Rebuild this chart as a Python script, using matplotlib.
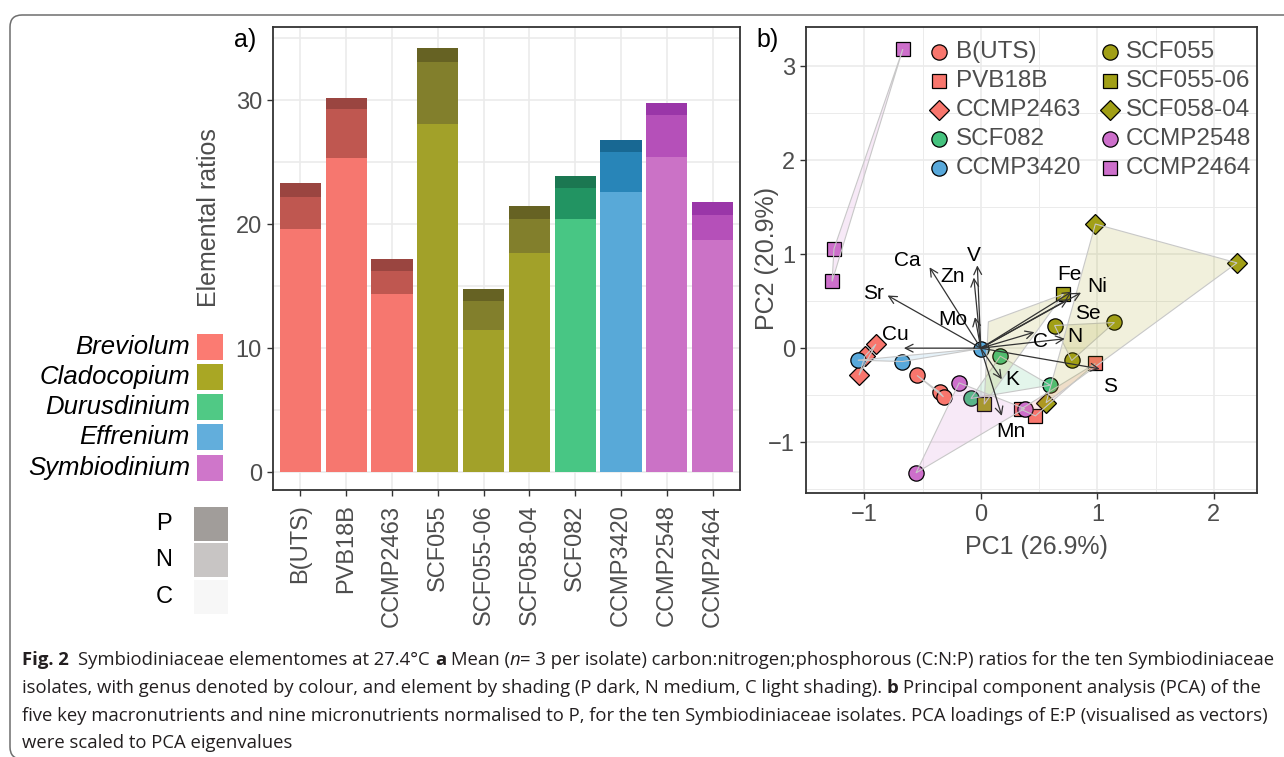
import numpy as np
import matplotlib
matplotlib.use('Agg')
import matplotlib.pyplot as plt
from matplotlib.patches import Rectangle, FancyBboxPatch, Polygon
from matplotlib.lines import Line2D
from matplotlib.transforms import Affine2D
from matplotlib import font_manager

plt.rcParams['font.family'] = ['Liberation Sans', 'DejaVu Sans']

W, H = 1284, 757

# ---- panel a data: C:N:P ratios (stacked) ----
isolates = ['B(UTS)', 'PVB18B', 'CCMP2463', 'SCF055', 'SCF055-06',
            'SCF058-04', 'SCF082', 'CCMP3420', 'CCMP2548', 'CCMP2464']
isolate_genus = ['Breviolum', 'Breviolum', 'Breviolum', 'Cladocopium', 'Cladocopium',
                 'Cladocopium', 'Durusdinium', 'Effrenium', 'Symbiodinium', 'Symbiodinium']
C_ratio = [19.6, 25.3, 14.4, 28.1, 11.45, 17.7, 20.45, 22.6, 25.4, 18.7]
N_ratio = [2.6, 3.95, 1.8, 5.0, 2.35, 2.75, 2.45, 3.2, 3.4, 2.0]
P_ratio = [1.1, 0.95, 1.0, 1.1, 1.0, 1.05, 1.0, 1.0, 1.0, 1.05]

genera = ['Breviolum', 'Cladocopium', 'Durusdinium', 'Effrenium', 'Symbiodinium']
light = {'Breviolum': '#F6776F', 'Cladocopium': '#A2A129', 'Durusdinium': '#48C684',
         'Effrenium': '#58A9D8', 'Symbiodinium': '#CB72C6'}
mid = {'Breviolum': '#BF5750', 'Cladocopium': '#827F2C', 'Durusdinium': '#229462',
       'Effrenium': '#2885B8', 'Symbiodinium': '#B550B9'}
dark = {'Breviolum': '#9A4540', 'Cladocopium': '#666223', 'Durusdinium': '#1B7751',
        'Effrenium': '#186893', 'Symbiodinium': '#9A36A8'}
legend_swatch = {'Breviolum': '#FB7B72', 'Cladocopium': '#A9A724', 'Durusdinium': '#50C985',
                 'Effrenium': '#62AEDC', 'Symbiodinium': '#CF76CA'}
element_labels = ['P', 'N', 'C']
element_swatch = ['#A19D9A', '#C8C5C4', '#F7F7F7']

# ---- panel b data: PCA scores (3 replicates per isolate) ----
pc_scores = {
    'B(UTS)':    [(-0.548, -0.29), (-0.353, -0.468), (-0.32, -0.518)],
    'PVB18B':    [(0.983, -0.163), (0.342, -0.649), (0.469, -0.72)],
    'CCMP2463':  [(-0.90, 0.043), (-0.994, -0.085), (-1.045, -0.287)],
    'SCF082':    [(0.167, -0.085), (0.596, -0.394), (-0.085, -0.535)],
    'CCMP3420':  [(-1.055, -0.128), (-0.672, -0.142), (0.0, -0.004)],
    'SCF055':    [(0.633, 0.241), (1.147, 0.273), (0.78, -0.131)],
    'SCF055-06': [(0.709, 0.574), (0.029, -0.596)],
    'SCF058-04': [(0.983, 1.32), (2.198, 0.907), (0.56, -0.58)],
    'CCMP2548':  [(-0.186, -0.369), (0.376, -0.642), (-0.556, -1.326)],
    'CCMP2464':  [(-0.669, 3.18), (-1.26, 1.056), (-1.276, 0.71)],
}
hull_extra = {'SCF055-06': [(0.065, 0.28)]}
iso_marker = {'B(UTS)': 'o', 'PVB18B': 's', 'CCMP2463': 'D', 'SCF082': 'o', 'CCMP3420': 'o',
              'SCF055': 'o', 'SCF055-06': 's', 'SCF058-04': 'D', 'CCMP2548': 'o', 'CCMP2464': 's'}
iso_color = {'B(UTS)': '#F8766D', 'PVB18B': '#F8766D', 'CCMP2463': '#F8766D',
             'SCF082': '#45C27E', 'CCMP3420': '#58A8DA',
             'SCF055': '#A19F16', 'SCF055-06': '#A19F16', 'SCF058-04': '#A19F16',
             'CCMP2548': '#CD6FCB', 'CCMP2464': '#CD6FCB'}
legend_col1 = ['B(UTS)', 'PVB18B', 'CCMP2463', 'SCF082', 'CCMP3420']
legend_col2 = ['SCF055', 'SCF055-06', 'SCF058-04', 'CCMP2548', 'CCMP2464']

# loadings (E:P vectors) and label positions
elements = ['Sr', 'Ca', 'Zn', 'V', 'Mo', 'Cu', 'Fe', 'Ni', 'Se', 'C', 'N', 'S', 'K', 'Mn']
load_x = [-0.80, -0.44, -0.06, -0.03, -0.05, -0.66, 0.78, 0.86, 0.75, 0.46, 0.72, 1.02, 0.18, 0.18]
load_y = [0.56, 0.86, 0.75, 0.88, 0.33, 0.0, 0.60, 0.59, 0.52, 0.17, 0.10, -0.22, -0.33, -0.72]
label_x = [-0.92, -0.63, -0.24, -0.06, -0.24, -0.73, 0.76, 1.0, 0.92, 0.512, 0.805, 1.11, 0.27, 0.254]
label_y = [0.58, 0.93, 0.76, 0.99, 0.30, 0.15, 0.78, 0.652, 0.369, 0.067, 0.12, -0.41, -0.33, -0.89]


def fx(x):
    return x / W


def fy(y):
    return 1 - y / H


grid_c = '#EBEBEB'
frame_c = '#333333'
tick_txt = '#4D4D4D'

fig = plt.figure(figsize=(W / 100, H / 100), dpi=100)

# ================= panel a =================
ax = fig.add_axes([fx(273), fy(490), (740 - 273) / W, (490 - 27) / H])
x = np.arange(len(isolates))
cols_l = [light[g] for g in isolate_genus]
cols_m = [mid[g] for g in isolate_genus]
cols_d = [dark[g] for g in isolate_genus]
C_arr, N_arr, P_arr = np.array(C_ratio), np.array(N_ratio), np.array(P_ratio)
ax.bar(x, C_arr, width=0.9, color=cols_l, zorder=2)
ax.bar(x, N_arr, bottom=C_arr, width=0.9, color=cols_m, zorder=2)
ax.bar(x, P_arr, bottom=C_arr + N_arr, width=0.9, color=cols_d, zorder=2)
ax.set_xlim(-0.6, 9.6)
ax.set_ylim(-1.45, 35.9)
ax.set_yticks([0, 10, 20, 30])
ax.set_yticks([5, 15, 25, 35], minor=True)
ax.set_xticks(x)
ax.set_xticklabels(isolates, rotation=90, ha='center', va='top')
ax.grid(True, which='both', color=grid_c, lw=1.2, zorder=0)
ax.set_axisbelow(True)
ax.tick_params(axis='both', which='major', labelsize=17, colors=frame_c, labelcolor=tick_txt,
               length=4.5, width=1)
ax.tick_params(axis='y', which='minor', length=0)
ax.tick_params(axis='x', pad=6)
for s in ax.spines.values():
    s.set_color(frame_c)
    s.set_linewidth(1.3)
ax.set_ylabel('Elemental ratios', fontsize=18, color=tick_txt)
ax.yaxis.set_label_coords((221 - 273) / 467, (490 - 218) / 463)

# genus legend
rows_y = [347, 377, 407, 437, 468]
for g, ry in zip(genera, rows_y):
    fig.add_artist(Rectangle((fx(197), fy(ry + 13)), 26 / W, 26 / H,
                             transform=fig.transFigure, color=legend_swatch[g], lw=0))
    fig.text(fx(190), fy(ry), g, ha='right', va='center', style='italic',
             fontsize=18.5, color='black')

# element legend
el_top = [507, 543, 580]
for lab, col, ty in zip(element_labels, element_swatch, el_top):
    fig.add_artist(Rectangle((fx(194), fy(ty + 34)), 34 / W, 34 / H,
                             transform=fig.transFigure, color=col, lw=0))
    fig.text(fx(164), fy(ty + 17), lab, ha='center', va='center', fontsize=17, color='black')

fig.text(fx(245), fy(40), 'a)', ha='center', va='center', fontsize=18, color='black')

# ================= panel b =================
bx = fig.add_axes([fx(806), fy(493), (1257 - 806) / W, (493 - 27) / H])
bx.set_xlim(-1.454, 2.37)
bx.set_ylim(-1.54, 3.415)
bx.set_xticks([-1, 0, 1, 2])
bx.set_xticks([-1.5, -0.5, 0.5, 1.5], minor=True)
bx.set_yticks([-1, 0, 1, 2, 3])
bx.set_yticks([-1.5, -0.5, 0.5, 1.5, 2.5], minor=True)
bx.set_xticklabels(['\u22121', '0', '1', '2'])
bx.set_yticklabels(['\u22121', '0', '1', '2', '3'])
bx.grid(True, which='major', color=grid_c, lw=1.2, zorder=0)
bx.grid(True, which='minor', color=grid_c, lw=0.7, zorder=0)
bx.set_axisbelow(True)
bx.tick_params(axis='both', which='major', labelsize=17, colors=frame_c, labelcolor=tick_txt,
               length=4.5, width=1)
bx.tick_params(which='minor', length=0)
for s in bx.spines.values():
    s.set_color(frame_c)
    s.set_linewidth(1.3)
bx.set_xlabel('PC1 (26.9%)', fontsize=18, color=tick_txt)
bx.xaxis.set_label_coords((1036 - 806) / 451, (493 - 535) / 466)
bx.set_ylabel('PC2 (20.9%)', fontsize=18, color=tick_txt)
bx.yaxis.set_label_coords((779 - 806) / 451, (493 - 258) / 466)

msize = {'o': 11, 's': 10.5, 'D': 10}
for iso, pts in pc_scores.items():
    px = [p[0] for p in pts]
    py = [p[1] for p in pts]
    mk = iso_marker[iso]
    bx.plot(px, py, ls='none', marker=mk, ms=msize[mk], mfc=iso_color[iso],
            mec='black', mew=0.9, zorder=3)
for iso, pts in pc_scores.items():
    hull = pts + hull_extra.get(iso, [])
    bx.add_patch(Polygon(hull, closed=True, facecolor=iso_color[iso], alpha=0.15,
                         edgecolor='none', zorder=4))
    bx.add_patch(Polygon(hull, closed=True, facecolor='none', edgecolor='#C8C8C8',
                         lw=0.8, zorder=4))

for ex, ey, lx, ly, el in zip(load_x, load_y, label_x, label_y, elements):
    bx.annotate('', xy=(ex, ey), xytext=(0, 0),
                arrowprops=dict(arrowstyle='->', color='#333333', lw=0.9,
                                mutation_scale=14, shrinkA=0, shrinkB=0), zorder=5)
    bx.text(lx, ly, el, ha='center', va='center', fontsize=15, color='black', zorder=6)

# legend for isolates
leg_rows = [52, 81, 110, 139, 168]
for col_items, mx, tx in [(legend_col1, 939, 956), (legend_col2, 1110, 1126)]:
    for iso, ry in zip(col_items, leg_rows):
        mk = iso_marker[iso]
        fig.add_artist(Line2D([fx(mx)], [fy(ry)], transform=fig.transFigure, ls='none',
                              marker=mk, ms=msize[mk], mfc=iso_color[iso], mec='black', mew=0.9))
        fig.text(fx(tx), fy(ry), iso, ha='left', va='center', fontsize=17.5, color=tick_txt)

fig.text(fx(768), fy(40), 'b)', ha='center', va='center', fontsize=18, color='black')

# ================= frame and caption =================
px_tr = Affine2D().scale(1 / W, 1 / H) + fig.transFigure
fig.add_artist(FancyBboxPatch((10, -2), 1310, H - 13, boxstyle='round,pad=0,rounding_size=12',
                              transform=px_tr, facecolor='none', edgecolor='#6E6E6E', lw=1.1))


def has_font(name):
    try:
        font_manager.findfont(font_manager.FontProperties(family=name),
                              fallback_to_default=False)
        return True
    except Exception:
        return False


cap_family = next(f for f in ['Liberation Sans Narrow', 'Open Sans', 'Liberation Sans']
                  if has_font(f))
renderer = fig.canvas.get_renderer()


def text_w(s, size, weight='normal', style='normal'):
    t = fig.text(0, 0, s, fontsize=size, family=cap_family, weight=weight, style=style)
    w = t.get_window_extent(renderer).width
    t.remove()
    return w


def draw_line(pieces, x0, base, size, draw=True):
    sp = text_w('x x', size) - text_w('xx', size)
    xp = x0
    for s, weight, style in pieces:
        lead = len(s) - len(s.lstrip(' '))
        trail = len(s) - len(s.rstrip(' '))
        core = s.strip(' ')
        xp += lead * sp
        if core:
            if draw:
                fig.text(fx(xp), fy(base), core, fontsize=size, family=cap_family,
                         weight=weight, style=style, va='baseline', ha='left', color='#231F20')
            xp += text_w(core, size, weight, style)
        xp += trail * sp
    return xp


N_, B_, I_ = 'normal', 'bold', 'italic'
cap_lines = [
    [('Fig. 2', B_, N_), ('  Symbiodiniaceae elementomes at 27.4\u00b0C ', N_, N_), ('a', B_, N_),
     (' Mean (', N_, N_), ('n', N_, I_),
     ('= 3 per isolate) carbon:nitrogen;phosphorous (C:N:P) ratios for the ten Symbiodiniaceae', N_, N_)],
    [('isolates, with genus denoted by colour, and element by shading (P dark, N medium, C light shading). ', N_, N_),
     ('b', B_, N_), (' Principal component analysis (PCA) of the', N_, N_)],
    [('five key macronutrients and nine micronutrients normalised to P, for the ten Symbiodiniaceae isolates. '
      'PCA loadings of E:P (visualised as vectors)', N_, N_)],
    [('were scaled to PCA eigenvalues', N_, N_)],
]
cap_base = [665, 693, 721, 748]
s0 = 12.0
w0 = draw_line(cap_lines[0], 22, cap_base[0], s0, draw=False) - 22
cap_size = s0 * (1243 / w0)
for pieces, base in zip(cap_lines, cap_base):
    draw_line(pieces, 22, base, cap_size)

fig.savefig('out.png', dpi=100)
